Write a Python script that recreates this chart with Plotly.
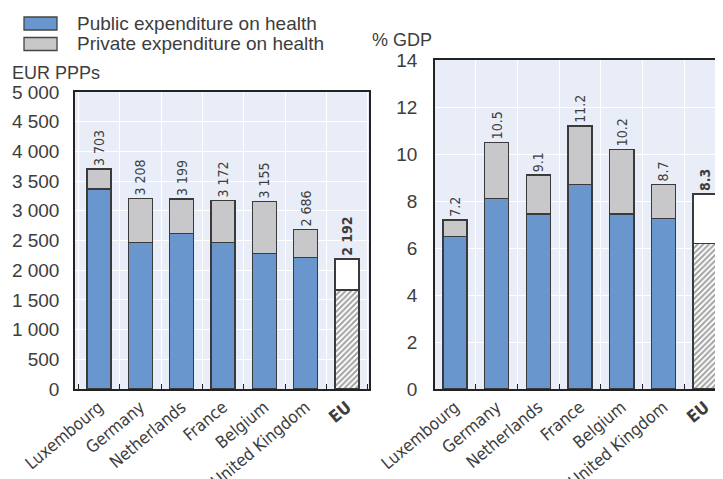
import plotly.graph_objects as go

countries = ["Luxembourg", "Germany", "Netherlands", "France", "Belgium", "United Kingdom", "EU"]
tick_labels = ["Luxembourg", "Germany", "Netherlands", "France", "Belgium", "United Kingdom", "<b>EU</b>"]

# Left panel: EUR PPPs per capita
eur_total = [3703, 3208, 3199, 3172, 3155, 2686, 2192]
eur_public = [3370, 2465, 2620, 2465, 2285, 2215, 1665]
eur_labels = ["3 703", "3 208", "3 199", "3 172", "3 155", "2 686", "<b>2 192</b>"]

# Right panel: % of GDP
gdp_total = [7.2, 10.5, 9.1, 11.2, 10.2, 8.7, 8.3]
gdp_public = [6.5, 8.1, 7.45, 8.7, 7.45, 7.25, 6.2]
gdp_labels = ["7.2", "10.5", "9.1", "11.2", "10.2", "8.7", "<b>8.3</b>"]

legend_names = ["Public expenditure on health", "Private expenditure on health"]

BLUE = "#6a96ce"
GREY = "#c8c8ca"
LINE = "#3a3a3a"
TXT = "#3d3d3d"
BG = "#e9edf8"
# page body has an 8px margin: figure drawn 8px right/down of window origin
OFF = 8
W, H = 723 - OFF, 479 - OFF
NARROW = "Liberation Sans Narrow, Arial Narrow, DejaVu Sans Condensed, Liberation Sans, Arial"
SANS = "Liberation Sans, Arial"


def px(x):
    return (x - OFF) / W


def py(y):
    return 1 - (y - OFF) / H


pub_colors = [BLUE] * 6 + ["white"]
priv_colors = [GREY] * 6 + ["white"]
patterns = [""] * 6 + ["/"]

fig = go.Figure()
for xa, ya, pub, tot, labs in [("x", "y", eur_public, eur_total, eur_labels),
                               ("x2", "y2", gdp_public, gdp_total, gdp_labels)]:
    priv = [t - p for t, p in zip(tot, pub)]
    fig.add_trace(go.Bar(
        x=countries, y=pub, xaxis=xa, yaxis=ya, width=0.58,
        marker=dict(color=pub_colors, line=dict(color=LINE, width=1.4),
                    pattern=dict(shape=patterns, fgcolor="#404040", size=4, solidity=0.5,
                                 fillmode="overlay")),
        showlegend=False, hoverinfo="skip"))
    fig.add_trace(go.Bar(
        x=countries, y=priv, xaxis=xa, yaxis=ya, width=0.58,
        marker=dict(color=priv_colors, line=dict(color=LINE, width=1.4)),
        text=labs, textposition="outside", textangle=-90, constraintext="none",
        outsidetextfont=dict(family=NARROW, size=14, color=TXT),
        cliponaxis=False, showlegend=False, hoverinfo="skip"))

axis_common = dict(showline=True, linecolor="#222222", linewidth=1.5, automargin=False,
                   gridcolor="white", gridwidth=1, zeroline=False)

fig.update_layout(
    width=W, height=H, margin=dict(l=0, r=0, t=0, b=0, autoexpand=False),
    barmode="stack", plot_bgcolor=BG, paper_bgcolor="white",
    separators=". ", showlegend=False,
    font=dict(family=SANS, color=TXT),
    xaxis=dict(domain=[px(75), px(369)], anchor="y", range=[-0.58, 6.53],
               tickmode="array", tickvals=countries, ticktext=tick_labels,
               tickson="boundaries", ticks="inside", ticklen=5, tickcolor="#222",
               tickangle=-40, tickfont=dict(family=NARROW, size=17, color=TXT),
               mirror=True, **axis_common),
    yaxis=dict(domain=[py(389), py(92)], anchor="x", range=[0, 5000], dtick=500,
               tickformat=",d", tickfont=dict(family=SANS, size=19, color=TXT),
               ticklabelstandoff=10, mirror=True, **axis_common),
    xaxis2=dict(domain=[px(435), 1.0], anchor="y2", range=[-0.48, 6.43],
                tickmode="array", tickvals=countries, ticktext=tick_labels,
                tickson="boundaries", ticks="inside", ticklen=5, tickcolor="#222",
                tickangle=-40, tickfont=dict(family=NARROW, size=17, color=TXT),
                mirror=True, **axis_common),
    yaxis2=dict(domain=[py(389), py(60)], anchor="x2", range=[0, 14], dtick=2,
                tickfont=dict(family=SANS, size=19, color=TXT),
                ticklabelstandoff=12, mirror=False, **axis_common),
)

# Axis unit titles
fig.add_annotation(text="EUR PPPs", xref="paper", yref="paper", x=px(10), y=py(73),
                   xanchor="left", yanchor="middle", showarrow=False,
                   font=dict(family=SANS, size=18, color=TXT))
fig.add_annotation(text="% GDP", xref="paper", yref="paper", x=px(370), y=py(40),
                   xanchor="left", yanchor="middle", showarrow=False,
                   font=dict(family=SANS, size=18, color=TXT))

# Legend (drawn as shapes + text)
for i, (name, col) in enumerate(zip(legend_names, [BLUE, GREY])):
    y0, y1 = 17 + i * 20.5, 30 + i * 20.5
    fig.add_shape(type="rect", xref="paper", yref="paper",
                  x0=px(24), x1=px(57), y0=py(y1), y1=py(y0),
                  fillcolor=col, line=dict(color="#444444", width=1.3))
    fig.add_annotation(text=name, xref="paper", yref="paper", x=px(75), y=py((y0 + y1) / 2),
                       xanchor="left", yanchor="middle", showarrow=False,
                       font=dict(family=SANS, size=19, color=TXT))

fig.write_html("out.html")
